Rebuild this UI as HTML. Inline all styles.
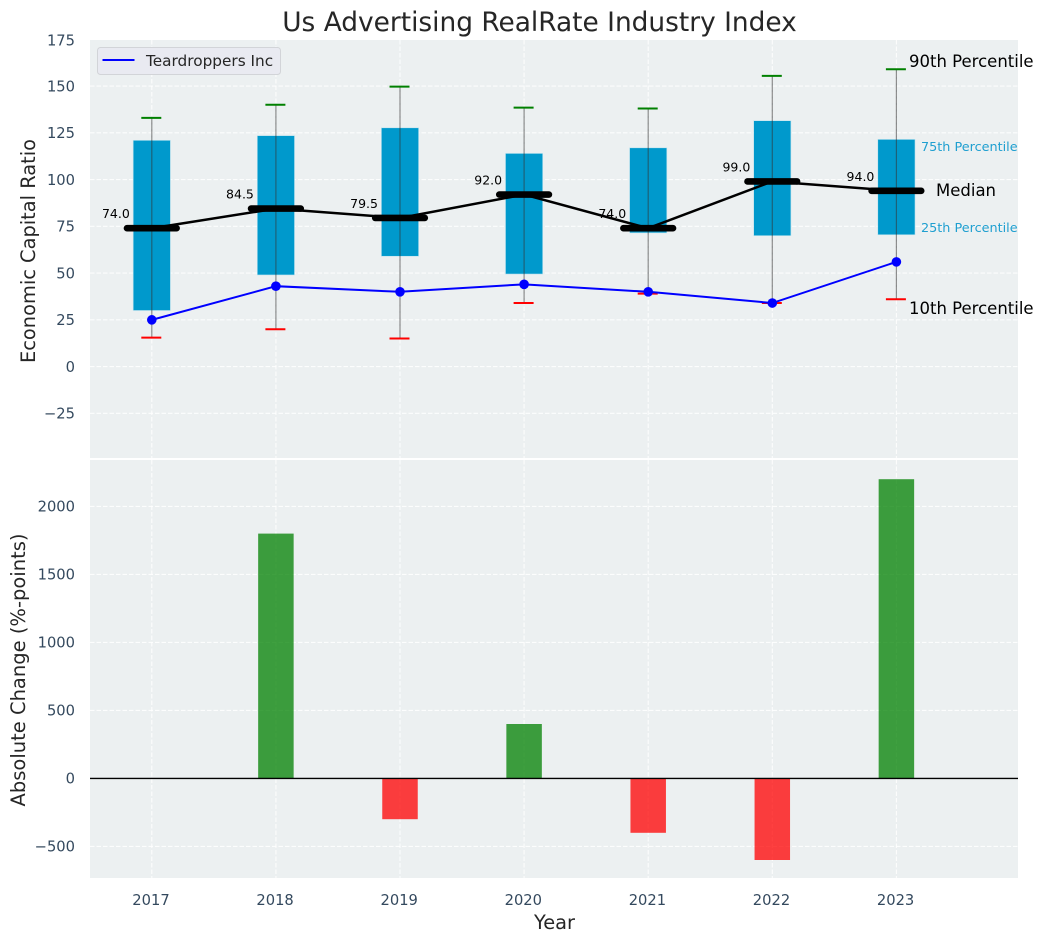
<!DOCTYPE html>
<html lang="en">
<head>
<meta charset="utf-8">
<title>Us Advertising RealRate Industry Index</title>
<style>
html,body{margin:0;padding:0;background:#fff;width:1044px;height:942px;overflow:hidden}
svg{display:block;font-family:"DejaVu Sans","Liberation Sans",sans-serif}
</style>
</head>
<body>
<svg id="chart" width="1044" height="942" viewBox="0 0 1044 942" xmlns="http://www.w3.org/2000/svg">
  <defs>
    <clipPath id="clip-top"><rect x="90" y="40" width="928" height="418"/></clipPath>
    <clipPath id="clip-bottom"><rect x="90" y="460" width="928" height="418"/></clipPath>
  </defs>
  <text x="539.5" y="31" font-size="26.4" fill="#262626" text-anchor="middle">Us Advertising RealRate Industry Index</text>
  <rect x="90" y="40" width="928" height="418" fill="#ecf0f1"/>
  <rect x="90" y="460" width="928" height="418" fill="#ecf0f1"/>
  <g id="top-grid" clip-path="url(#clip-top)"></g>
  <g id="bottom-grid" clip-path="url(#clip-bottom)"></g>
  <g id="top-marks" clip-path="url(#clip-top)"></g>
  <g id="bottom-marks" clip-path="url(#clip-bottom)"></g>
  <g id="labels"></g>
  <text transform="translate(35,251) rotate(-90)" font-size="19.4" fill="#262626" text-anchor="middle">Economic Capital Ratio</text>
  <text transform="translate(25,670) rotate(-90)" font-size="19.5" fill="#262626" text-anchor="middle">Absolute Change (%-points)</text>
  <text x="554.5" y="929" font-size="19.4" fill="#262626" text-anchor="middle">Year</text>
  <g>
    <rect x="97.5" y="47.5" width="183" height="27" rx="3" fill="#e9eaf1" stroke="#d2d4d8" stroke-width="1"/>
    <line x1="102.5" x2="134.5" y1="60" y2="60" stroke="#0000ff" stroke-width="2"/>
    <text x="146" y="66" font-size="15.3" fill="#262626">Teardroppers Inc</text>
  </g>
  <g>
    <text x="909" y="67" font-size="16.5" fill="#000">90th Percentile</text>
    <text x="921" y="151" font-size="12.8" fill="#1f9fd0">75th Percentile</text>
    <text x="936" y="196" font-size="16.5" fill="#000">Median</text>
    <text x="921" y="232" font-size="12.8" fill="#1f9fd0">25th Percentile</text>
    <text x="909" y="314" font-size="16.5" fill="#000">10th Percentile</text>
  </g>
</svg>
<script>
const years = [2017, 2018, 2019, 2020, 2021, 2022, 2023];
const p90 = [133, 140, 149.7, 138.5, 138, 155.5, 159];
const p75 = [121, 123.5, 127.7, 114, 117, 131.5, 121.5];
const medians = [74, 84.5, 79.5, 92, 74, 99, 94];
const p25 = [30, 49, 59, 49.5, 71.5, 70, 70.5];
const p10 = [15.5, 20, 15, 34, 39, 34, 36];
const company = [25, 43, 40, 44, 40, 34, 56];
const changes = [0, 1800, -300, 400, -400, -600, 2200];
const topTicks = [-25, 0, 25, 50, 75, 100, 125, 150, 175];
const bottomTicks = [-500, 0, 500, 1000, 1500, 2000];

const NS = 'http://www.w3.org/2000/svg';
const xScale = function (year) { return 151.8 + (year - 2017) * 124.1; };
const xLength = function (units) { return units * 124.1; };
const yTop = function (v) { return 366.6 - v * 1.87; };
const yBottom = function (v) { return 778.4 - v * 0.136; };
const tickFmt = function (v) { return v < 0 ? '\u2212' + Math.abs(v) : String(v); };

function make(tag, attrs, parent, text) {
  const el = document.createElementNS(NS, tag);
  Object.keys(attrs).forEach(function (k) { el.setAttribute(k, attrs[k]); });
  if (text !== undefined) el.textContent = text;
  parent.appendChild(el);
  return el;
}

const topGrid = document.getElementById('top-grid');
const bottomGrid = document.getElementById('bottom-grid');
const topMarks = document.getElementById('top-marks');
const bottomMarks = document.getElementById('bottom-marks');
const labels = document.getElementById('labels');
const gridStyle = { stroke: '#ffffff', 'stroke-width': 1.1, 'stroke-opacity': 0.85, 'stroke-dasharray': '4.5 2' };

topTicks.forEach(function (t) {
  if (t < 175) {
    const g = make('line', Object.assign({ x1: 90, x2: 1018, y1: yTop(t), y2: yTop(t) }, gridStyle), topGrid);
    
    
  }
  const lab = make('text', { x: 75, y: Math.max(yTop(t), 40) + 5.3, 'font-size': 14.7, fill: '#34495e', 'text-anchor': 'end' }, labels, tickFmt(t));
  
  
});

bottomTicks.forEach(function (t) {
  const g = make('line', Object.assign({ x1: 90, x2: 1018, y1: yBottom(t), y2: yBottom(t) }, gridStyle), bottomGrid);
  
  
  const lab = make('text', { x: 75, y: yBottom(t) + 5.3, 'font-size': 14.7, fill: '#34495e', 'text-anchor': 'end' }, labels, tickFmt(t));
  
  
});

years.forEach(function (yr) {
  const x = xScale(yr);
  const a = make('line', Object.assign({ x1: x, x2: x, y1: 40, y2: 458 }, gridStyle), topGrid);
  
  
  const b = make('line', Object.assign({ x1: x, x2: x, y1: 460, y2: 878 }, gridStyle), bottomGrid);
  
  
  const lab = make('text', { x: x - 0.8, y: 905, 'font-size': 14.7, fill: '#34495e', 'text-anchor': 'middle' }, labels, String(yr));
  
  
});

years.forEach(function (yr, i) {
  const x = xScale(yr);
  const box = make('rect', {
    x: x - xLength(0.15), y: yTop(p75[i]), width: xLength(0.3), height: yTop(p25[i]) - yTop(p75[i]),
    fill: '#0099cc', stroke: '#bfe3ee', 'stroke-width': 0.6
  }, topMarks);
  
  
  const whisker = make('line', {
    x1: x, x2: x, y1: yTop(p90[i]), y2: yTop(p10[i]), stroke: '#333333', 'stroke-opacity': 0.55, 'stroke-width': 1.2
  }, topMarks);
  
  
  const hi = make('line', {
    x1: x - 10.5, x2: x + 9.5, y1: yTop(p90[i]), y2: yTop(p90[i]), stroke: '#008000', 'stroke-width': 2
  }, topMarks);
  
  
  const lo = make('line', {
    x1: x - 10.5, x2: x + 9.5, y1: yTop(p10[i]), y2: yTop(p10[i]), stroke: '#ff0000', 'stroke-width': 2
  }, topMarks);
  
  
});

const medianPath = make('polyline', {
  points: years.map(function (yr, i) { return xScale(yr) + ',' + yTop(medians[i]); }).join(' '),
  fill: 'none', stroke: '#000000', 'stroke-width': 2.5
}, topMarks);



years.forEach(function (yr, i) {
  const x = xScale(yr);
  const y = yTop(medians[i]);
  const bar = make('line', {
    x1: x - xLength(0.2), x2: x + xLength(0.2), y1: y, y2: y,
    stroke: '#000000', 'stroke-width': 6.6, 'stroke-linecap': 'round'
  }, topMarks);
  
  
  const val = make('text', {
    x: x - 22, y: y - 10, 'font-size': 12.5, fill: '#000000', 'text-anchor': 'end'
  }, topMarks, medians[i].toFixed(1));
  
  
});

const companyPath = make('polyline', {
  points: years.map(function (yr, i) { return xScale(yr) + ',' + yTop(company[i]); }).join(' '),
  fill: 'none', stroke: '#0000ff', 'stroke-width': 2
}, topMarks);



years.forEach(function (yr, i) {
  const dot = make('circle', { cx: xScale(yr), cy: yTop(company[i]), r: 4.8, fill: '#0000ff' }, topMarks);
  
  
});

years.forEach(function (yr, i) {
  const v = changes[i];
  if (v === 0) return;
  const y0 = yBottom(0);
  const y1 = yBottom(v);
  const bar = make('rect', {
    x: xScale(yr) - xLength(0.143), y: Math.min(y0, y1), width: xLength(0.286), height: Math.abs(y1 - y0),
    fill: v > 0 ? '#008000' : '#ff0000', 'fill-opacity': 0.75
  }, bottomMarks);
  
  
});

const zero = make('line', { x1: 90, x2: 1018, y1: yBottom(0), y2: yBottom(0), stroke: '#000000', 'stroke-width': 1.4 }, bottomMarks);


</script>
</body>
</html>
